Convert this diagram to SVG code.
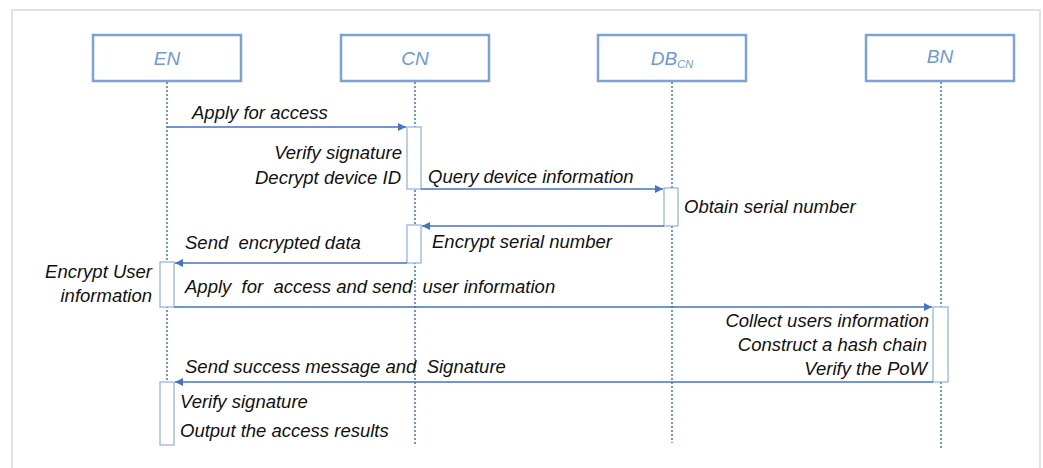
<svg xmlns="http://www.w3.org/2000/svg" width="1043" height="468" viewBox="0 0 1043 468">
<defs>
<marker id="ah" viewBox="0 0 10 10" refX="10" refY="5" markerWidth="9" markerHeight="8" markerUnits="userSpaceOnUse" orient="auto">
<path d="M0,0 L10,5 L0,10 z" fill="#4472C4"/>
</marker>
<style>
.frame{fill:#fff;stroke:#D9D9D9;stroke-width:1.5}
.node{fill:#fff;stroke:#7BA3D6;stroke-width:2.5}
.nt{font-family:"Liberation Sans",Arial,sans-serif;font-style:italic;font-size:19px;fill:#6E9AD2;text-anchor:middle}
.life{stroke:#4472C4;stroke-width:1.5;stroke-dasharray:2,2;fill:none}
.act{fill:#fff;stroke:#8DB0DE;stroke-width:1.2}
.msg{stroke:#4472C4;stroke-width:1.3;fill:none}
.t{font-family:"Liberation Sans",Arial,sans-serif;font-style:italic;font-size:18.5px;fill:#111;white-space:pre}
.r{text-anchor:end}
</style>
</defs>
<rect class="frame" x="12" y="10" width="1028" height="470"/>
<g id="lifelines">
<line class="life" x1="167" y1="82" x2="167" y2="445"/>
<line class="life" x1="415" y1="82" x2="415" y2="445"/>
<line class="life" x1="672" y1="82" x2="672" y2="443"/>
<line class="life" x1="941" y1="82" x2="941" y2="449"/>
</g>
<g id="node-EN"><rect class="node" x="93" y="35" width="148" height="46"/><text class="nt" x="167" y="65">EN</text></g>
<g id="node-CN"><rect class="node" x="341" y="35" width="148" height="46"/><text class="nt" x="415" y="65">CN</text></g>
<g id="node-DB"><rect class="node" x="598" y="35" width="148" height="46"/><text class="nt" x="672" y="65"><tspan>DB</tspan><tspan font-size="11" dy="3">CN</tspan></text></g>
<g id="node-BN"><rect class="node" x="866" y="35" width="148" height="46"/><text class="nt" x="940" y="63">BN</text></g>
<g id="activations">
<rect class="act" x="407" y="127" width="14" height="62"/>
<rect class="act" x="664" y="188" width="14" height="38"/>
<rect class="act" x="407" y="225" width="14" height="38"/>
<rect class="act" x="160" y="262" width="14" height="45"/>
<rect class="act" x="933" y="307" width="15" height="75"/>
<rect class="act" x="160" y="382" width="14" height="63"/>
</g>
<g id="connectors">
<line class="msg" x1="167" y1="127" x2="406" y2="127" marker-end="url(#ah)"/>
<line class="msg" x1="421" y1="189" x2="663" y2="189" marker-end="url(#ah)"/>
<line class="msg" x1="664" y1="226" x2="422" y2="226" marker-end="url(#ah)"/>
<line class="msg" x1="407" y1="263" x2="175" y2="263" marker-end="url(#ah)"/>
<line class="msg" x1="174" y1="307" x2="932" y2="307" marker-end="url(#ah)"/>
<line class="msg" x1="933" y1="382" x2="175" y2="382" marker-end="url(#ah)"/>
</g>
<g id="labels">
<text class="t" x="192" y="119">Apply for access</text>
<text class="t r" x="402" y="159">Verify signature</text>
<text class="t r" x="401" y="184">Decrypt device ID</text>
<text class="t" x="428" y="183">Query device information</text>
<text class="t" x="684" y="213">Obtain serial number</text>
<text class="t" x="432" y="248">Encrypt serial number</text>
<text class="t" x="185" y="249">Send  encrypted data</text>
<text class="t r" x="152" y="278">Encrypt User</text>
<text class="t r" x="152" y="302">information</text>
<text class="t" x="185" y="293">Apply  for  access and send  user information</text>
<text class="t r" x="929" y="327">Collect users information</text>
<text class="t r" x="927" y="351">Construct a hash chain</text>
<text class="t r" x="927" y="375">Verify the PoW</text>
<text class="t" x="185" y="373">Send success message and  Signature</text>
<text class="t" x="180" y="408">Verify signature</text>
<text class="t" x="180" y="437">Output the access results</text>
</g>
</svg>
